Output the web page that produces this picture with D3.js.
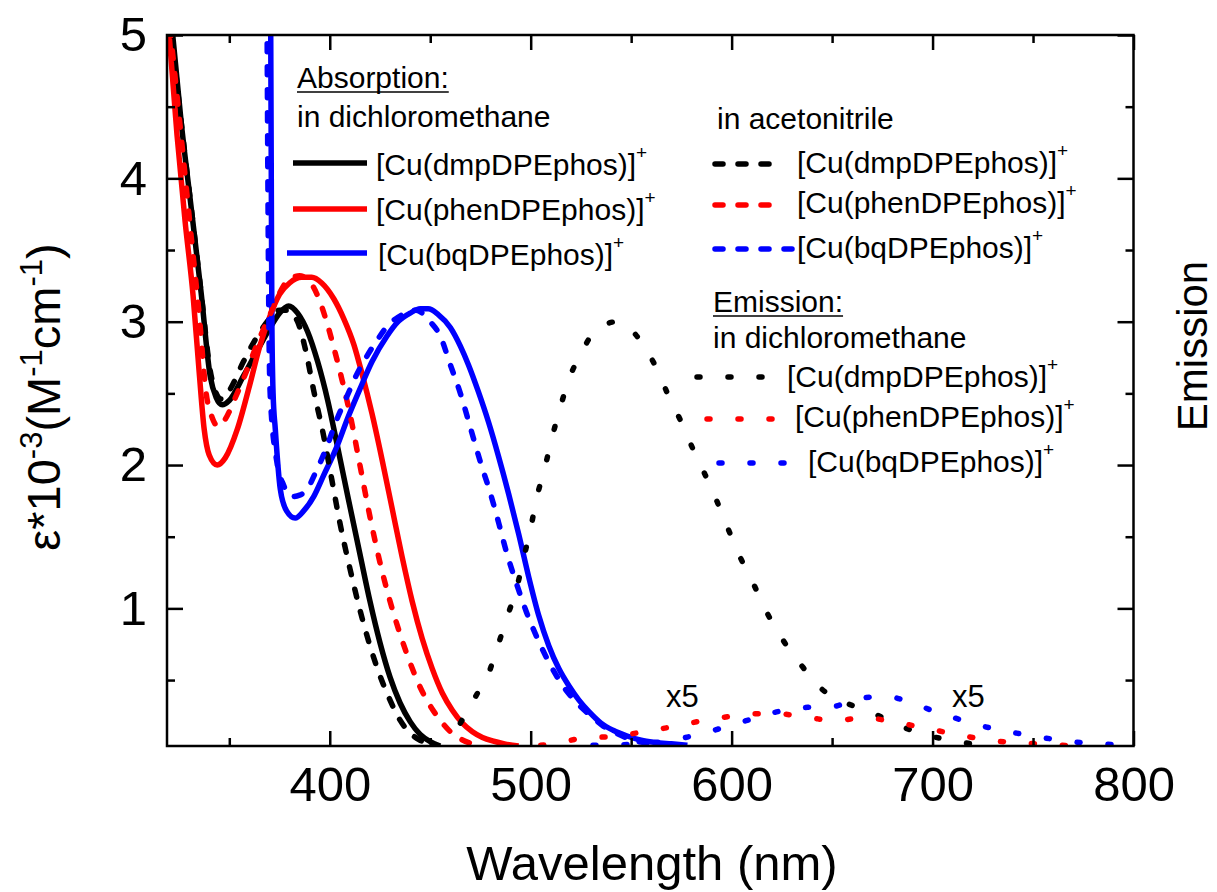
<!DOCTYPE html>
<html>
<head>
<meta charset="utf-8">
<script src="https://cdn.jsdelivr.net/npm/d3@7"></script>
<style>
  body { margin: 0; background: #fff; }
  text { font-family: "Liberation Sans", Arial, Helvetica, sans-serif; fill: #000; }
</style>
</head>
<body>
<div id="chart"></div>
<script>
// absorption in dichloromethane (solid) : [nm, eps*1e-3]
const dmpDcm = [[321.5,5.05],[326,4.4],[331,3.8],[336,3.2],[340.5,2.62],[343.5,2.47],[346.5,2.42],[350,2.45],[357,2.62],[364,2.8],[370,2.95],[375,3.06],[379.5,3.11],[384,3.06],[389,2.93],[394,2.72],[399,2.45],[404,2.12],[409,1.78],[415,1.38],[420,1.05],[425,0.76],[430,0.52],[435,0.34],[440,0.21],[445,0.12],[450,0.07],[455,0.04]];
const phenDcm = [[319.8,5.05],[324,4.3],[328,3.7],[332,3.18],[335,2.65],[337.5,2.25],[340,2.07],[344,2.0],[348,2.05],[354,2.25],[360,2.55],[365,2.82],[370,3.03],[375,3.19],[380,3.27],[386,3.31],[391,3.31],[396,3.27],[402,3.16],[407,3.02],[412,2.84],[416,2.64],[421,2.36],[426,2.04],[431,1.7],[436,1.36],[441,1.05],[446,0.79],[451,0.58],[456,0.41],[461,0.29],[466,0.2],[471,0.14],[476,0.1],[481,0.075],[487,0.055],[494,0.04]];
const bqDcm = [[370.6,5.1],[370.9,4.0],[371.2,3.0],[371.8,2.5],[372.9,2.25],[375.4,1.83],[378.5,1.68],[382.8,1.63],[387,1.68],[392,1.78],[397,1.93],[403.6,2.13],[409,2.33],[415,2.53],[421,2.72],[428.5,2.9],[434,3.0],[440,3.06],[445,3.09],[449,3.09],[454,3.05],[460,2.96],[465,2.83],[469,2.7],[474,2.51],[479,2.3],[484,2.06],[489,1.8],[494,1.52],[499,1.22],[504,0.95],[509,0.74],[514,0.58],[519,0.46],[524,0.36],[529,0.28],[535,0.2],[541,0.15],[548,0.11],[555,0.08],[562,0.065],[570,0.055],[578,0.045]];

// absorption in acetonitrile (dashed)
const dmpMecn = [[321,5.05],[326,4.4],[331,3.8],[336,3.2],[340.5,2.66],[343.5,2.5],[346,2.46],[350,2.52],[357,2.72],[364,2.9],[370,3.02],[375,3.08],[379,3.08],[384,3.0],[388,2.8],[392,2.52],[397,2.2],[401,1.9],[405,1.6],[410,1.28],[415,0.99],[420,0.74],[425,0.53],[430,0.36],[435,0.22],[440,0.13],[445,0.08],[450,0.05]];
const phenMecn = [[320.5,5.05],[326,4.3],[331,3.6],[335,3.05],[338.5,2.5],[341.5,2.33],[344.5,2.27],[348,2.32],[353,2.47],[357,2.6],[364,2.85],[370,3.04],[375,3.2],[380,3.3],[385,3.32],[390,3.28],[394,3.18],[398,3.02],[402,2.82],[406,2.6],[410,2.36],[415,2.0],[420,1.64],[425,1.32],[430,1.05],[435,0.82],[440,0.62],[445,0.45],[450,0.32],[455,0.22],[460,0.14],[465,0.09],[472,0.05]];
const bqMecn = [[368.8,5.1],[369.2,4.0],[369.7,3.0],[370.4,2.48],[373.7,2.02],[377,1.86],[381.2,1.78],[385,1.79],[388.7,1.83],[393,1.95],[398.6,2.13],[403,2.3],[408.6,2.48],[413,2.62],[418.5,2.76],[424,2.88],[430,2.99],[435,3.04],[440,3.08],[443,3.08],[446,3.06],[450,3.0],[455,2.9],[460,2.7],[465,2.5],[470,2.26],[475,2.02],[480,1.8],[484,1.6],[488,1.39],[493,1.17],[498,0.97],[504,0.77],[510,0.6],[516,0.46],[523,0.34],[530,0.25],[536,0.18],[544,0.12],[551,0.08],[558,0.06],[565,0.05]];

// emission in dichloromethane (dotted), phen and bq shown x5
const dmpEm = [[465,0.2],[470,0.32],[474,0.42],[478,0.51],[483,0.71],[488,0.93],[493,1.14],[496.5,1.35],[500,1.56],[503,1.77],[507,1.98],[510.6,2.19],[514.7,2.4],[518.8,2.59],[524.7,2.77],[530.5,2.91],[538.8,2.99],[543,3.0],[547,2.98],[555.4,2.85],[562.8,2.67],[569,2.47],[574.6,2.31],[580.5,2.12],[586.9,1.93],[592.3,1.76],[598.1,1.56],[604.5,1.35],[610.9,1.17],[617.6,0.97],[625.5,0.78],[633.8,0.62],[644.6,0.44],[655.2,0.35],[667,0.29],[680.9,0.2],[692.2,0.135],[707.2,0.084],[722,0.05]];
const phenEm = [[505,0.045],[515,0.065],[526,0.096],[541.6,0.107],[556.5,0.14],[571.5,0.177],[586,0.218],[599.5,0.247],[611,0.265],[624.5,0.263],[639,0.237],[651,0.217],[666,0.237],[681,0.207],[694.6,0.17],[710,0.126],[723.7,0.09],[738.6,0.065],[753.6,0.054],[768.5,0.042]];
const bqEm = [[531,0.045],[548,0.05],[565,0.07],[582.5,0.117],[596,0.169],[609,0.224],[623.8,0.282],[637.8,0.31],[651,0.317],[663,0.372],[677,0.386],[688.5,0.347],[701.8,0.277],[715,0.219],[730.7,0.159],[745.6,0.121],[760.7,0.086],[776,0.061],[791,0.05]];

const compounds = ["[Cu(dmpDPEphos)]", "[Cu(phenDPEphos)]", "[Cu(bqDPEphos)]"];
const colors = ["#000000", "#ff0000", "#0000ff"];
const xMajor = [400, 500, 600, 700, 800];
const xMinor = [350, 450, 550, 650, 750];
const yMajor = [1, 2, 3, 4, 5];
const yMinor = [0.5, 1.5, 2.5, 3.5, 4.5];

const W = 1217, H = 892;
const svg = d3.select("#chart").append("svg").attr("width", W).attr("height", H);

const x = d3.scaleLinear().domain([319, 800]).range([167, 1133.5]);
const y = d3.scaleLinear().domain([0.04, 5]).range([746, 35]);
const L = x.range()[0], R = x.range()[1], T = y.range()[1], B = y.range()[0];

const solid = null, dashed = "8,15", dotted = "3,28";

//clip
svg.append("clipPath").attr("id", "plot")
  .append("rect").attr("x", L).attr("y", T).attr("width", R - L).attr("height", B - T);

const line = d3.line()
  .x(d => x(d[0])).y(d => y(d[1]))
  .curve(d3.curveMonotoneX);

const series = [
  [dmpDcm, 0, solid], [phenDcm, 1, solid], [bqDcm, 2, solid],
  [dmpMecn, 0, dashed], [phenMecn, 1, dashed], [bqMecn, 2, dashed],
  [dmpEm, 0, dotted], [phenEm, 1, dotted], [bqEm, 2, dotted]
];

const curves = svg.append("g").attr("clip-path", "url(#plot)");
series.forEach(([data, c, dash]) => {
  curves.append("path")
    .attr("d", line(data))
    .attr("fill", "none")
    .attr("stroke", colors[c])
    .attr("stroke-width", 5.5)
    .attr("stroke-linecap", dash ? "round" : "butt")
    .attr("stroke-linejoin", "round")
    .attr("stroke-dasharray", dash);
});

//axes (ticks pointing inward)
function styleAxis(g, size) {
  g.select(".domain").remove();
  g.selectAll(".tick line").attr("stroke", "#000").attr("stroke-width", 2.5);
  g.selectAll(".tick text").style("font-size", size + "px").style("font-family", '"Liberation Sans", Arial, sans-serif');
}
svg.append("g").attr("transform", `translate(0,${B})`)
  .call(d3.axisBottom(x).tickValues(xMajor).tickSize(-15).tickPadding(20).tickFormat(d3.format("d")))
  .call(g => styleAxis(g, 49));
svg.append("g").attr("transform", `translate(0,${B})`)
  .call(d3.axisBottom(x).tickValues(xMinor).tickSize(-8).tickFormat(""))
  .call(g => styleAxis(g, 10));
svg.append("g").attr("transform", `translate(0,${T})`)
  .call(d3.axisTop(x).tickValues(xMajor).tickSize(-15).tickFormat(""))
  .call(g => styleAxis(g, 10));
svg.append("g").attr("transform", `translate(0,${T})`)
  .call(d3.axisTop(x).tickValues(xMinor).tickSize(-8).tickFormat(""))
  .call(g => styleAxis(g, 10));
svg.append("g").attr("transform", `translate(${L},0)`)
  .call(d3.axisLeft(y).tickValues(yMajor).tickSize(-16).tickPadding(20).tickFormat(d3.format("d")))
  .call(g => styleAxis(g, 49));
svg.append("g").attr("transform", `translate(${L},0)`)
  .call(d3.axisLeft(y).tickValues(yMinor).tickSize(-8).tickFormat(""))
  .call(g => styleAxis(g, 10));
svg.append("g").attr("transform", `translate(${R},0)`)
  .call(d3.axisRight(y).tickValues(yMajor).tickSize(-16).tickFormat(""))
  .call(g => styleAxis(g, 10));
svg.append("g").attr("transform", `translate(${R},0)`)
  .call(d3.axisRight(y).tickValues(yMinor).tickSize(-8).tickFormat(""))
  .call(g => styleAxis(g, 10));

svg.append("rect")
  .attr("x", L).attr("y", T).attr("width", R - L).attr("height", B - T)
  .attr("fill", "none").attr("stroke", "#000").attr("stroke-width", 2.5);

//titres des axes
svg.append("text")
  .attr("x", 652).attr("y", 880)
  .attr("text-anchor", "middle")
  .style("font-size", "49px")
  .text("Wavelength (nm)");

const ylab = svg.append("text")
  .attr("transform", "translate(60,397) rotate(-90)")
  .attr("text-anchor", "middle")
  .style("font-size", "47px");
ylab.append("tspan").text("ε*10");
ylab.append("tspan").attr("dy", -18).style("font-size", "31px").text("-3");
ylab.append("tspan").attr("dy", 18).text("(M");
ylab.append("tspan").attr("dy", -18).style("font-size", "31px").text("-1");
ylab.append("tspan").attr("dy", 18).text("cm");
ylab.append("tspan").attr("dy", -18).style("font-size", "31px").text("-1");
ylab.append("tspan").attr("dy", 18).text(")");

svg.append("text")
  .attr("transform", "translate(1207,346) rotate(-90)")
  .attr("text-anchor", "middle")
  .style("font-size", "42px")
  .text("Emission");

//legende
function header(tx, ty, label, underline) {
  const t = svg.append("text").attr("x", tx).attr("y", ty).style("font-size", "30px").text(label);
  if (underline) {
    const w = t.node().getComputedTextLength();
    svg.append("line").attr("x1", tx).attr("x2", tx + w)
      .attr("y1", ty + 4).attr("y2", ty + 4)
      .attr("stroke", "#000").attr("stroke-width", 1.5);
  }
}
function entry(x0, x1, ly, tx, ty, i, dash) {
  svg.append("line")
    .attr("x1", x0).attr("x2", x1).attr("y1", ly).attr("y2", ly)
    .attr("stroke", colors[i]).attr("stroke-width", 5.5)
    .attr("stroke-linecap", dash ? "round" : "butt")
    .attr("stroke-dasharray", dash);
  const t = svg.append("text").attr("x", tx).attr("y", ty).style("font-size", "30px");
  t.append("tspan").text(compounds[i]);
  t.append("tspan").attr("dy", -16).style("font-size", "19px").text("+");
}

header(297, 88, "Absorption:", true);
header(297, 127, "in dichloromethane", false);
entry(293, 367, 163, 376, 175, 0, solid);
entry(293, 367, 209, 376, 220, 1, solid);
entry(287, 367, 253, 378, 265, 2, solid);

header(717, 129, "in acetonitrile", false);
entry(715, 777, 164, 797, 173, 0, dashed);
entry(715, 777, 205, 797, 213, 1, dashed);
entry(715, 792, 249, 797, 258, 2, dashed);

header(713, 312, "Emission:", true);
header(713, 348, "in dichloromethane", false);
entry(697, 766, 377, 787, 387, 0, dotted);
entry(707, 776, 419, 795, 427, 1, dotted);
entry(719, 786, 463, 808, 472, 2, dotted);

svg.append("text").attr("x", 666).attr("y", 707).style("font-size", "31px").text("x5");
svg.append("text").attr("x", 952).attr("y", 707).style("font-size", "31px").text("x5");
</script>
</body>
</html>
